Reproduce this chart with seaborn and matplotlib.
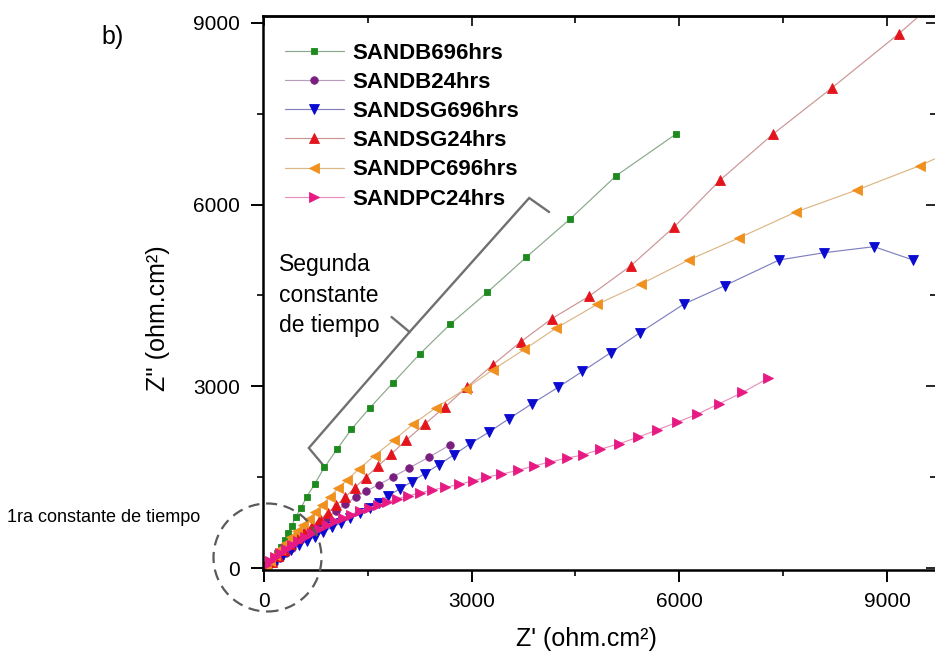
import numpy as np
import pandas as pd
import matplotlib
matplotlib.use("Agg")
import matplotlib.pyplot as plt
import seaborn as sns
from matplotlib.patches import Ellipse
from matplotlib.ticker import MultipleLocator

# ---------------- data (Z' , Z'' in ohm.cm2) ----------------
series_names = ["SANDB696hrs", "SANDB24hrs", "SANDSG696hrs",
                "SANDSG24hrs", "SANDPC696hrs", "SANDPC24hrs"]

b696_x = [48, 96, 144, 192, 240, 302, 346, 399, 456, 533, 619, 734, 874, 1056,
          1263, 1531, 1862, 2247, 2693, 3226, 3787, 4417, 5088, 5958]
b696_y = [12, 78, 160, 253, 352, 462, 573, 694, 837, 991, 1177, 1392, 1664, 1962,
          2290, 2647, 3055, 3529, 4029, 4552, 5130, 5758, 6478, 7171]

b24_x = [58, 144, 230, 317, 403, 490, 590, 691, 799, 914, 1037, 1174, 1325, 1479,
         1656, 1862, 2092, 2380, 2683]
b24_y = [17, 83, 165, 248, 330, 429, 528, 627, 727, 826, 941, 1049, 1172, 1271,
         1375, 1503, 1648, 1830, 2028]

sg696_x = [86, 173, 274, 389, 504, 619, 734, 850, 979, 1109, 1238, 1382, 1527, 1656,
           1786, 1959, 2136, 2321, 2524, 2751, 2978, 3245, 3538, 3871, 4251, 4601,
           5012, 5429, 6067, 6653, 7441, 8089, 8813, 9375]
sg696_y = [50, 132, 215, 297, 372, 446, 520, 594, 669, 743, 821, 903, 986, 1078,
           1189, 1304, 1425, 1559, 1704, 1874, 2051, 2241, 2464, 2713, 2985, 3248,
           3558, 3885, 4359, 4661, 5086, 5206, 5306, 5086]

sg24_x = [43, 115, 202, 288, 374, 475, 576, 691, 806, 926, 1047, 1171, 1310, 1469,
          1642, 1839, 2056, 2319, 2618, 2928, 3302, 3711, 4158, 4695, 5295, 5929,
          6586, 7349, 8199, 9166, 9950]
sg24_y = [17, 99, 198, 297, 396, 495, 594, 694, 804, 913, 1040, 1166, 1325, 1494,
          1679, 1882, 2114, 2373, 2664, 2984, 3352, 3737, 4117, 4486, 4987, 5636,
          6402, 7161, 7923, 8818, 9600]

pc696_x = [29, 86, 158, 230, 317, 389, 475, 562, 648, 734, 835, 950, 1070, 1200,
           1372, 1598, 1884, 2155, 2481, 2913, 3302, 3763, 4215, 4817, 5448, 6135,
           6869, 7680, 8564, 9471, 10400]
pc696_y = [33, 116, 215, 314, 413, 512, 611, 710, 809, 920, 1040, 1178, 1316, 1453,
           1635, 1857, 2119, 2378, 2645, 2959, 3270, 3611, 3958, 4356, 4690, 5086,
           5454, 5878, 6242, 6643, 7120]

pc24_x = [29, 86, 158, 230, 317, 403, 490, 590, 691, 792, 907, 1022, 1138, 1253,
          1382, 1512, 1642, 1771, 1915, 2074, 2247, 2434, 2621, 2823, 3014, 3209,
          3427, 3668, 3907, 4137, 4374, 4608, 4860, 5134, 5410, 5678, 5965, 6250,
          6567, 6912, 7287]
pc24_y = [50, 116, 182, 248, 314, 380, 446, 512, 578, 644, 710, 768, 826, 883,
          941, 991, 1040, 1090, 1139, 1189, 1238, 1288, 1332, 1382, 1437, 1499,
          1549, 1613, 1689, 1750, 1816, 1866, 1962, 2053, 2163, 2279, 2406, 2535,
          2708, 2898, 3137]

xs = [b696_x, b24_x, sg696_x, sg24_x, pc696_x, pc24_x]
ys = [b696_y, b24_y, sg696_y, sg24_y, pc696_y, pc24_y]

marker_colors = ["#1c8a1c", "#7a1f80", "#0a0ad0", "#e3141c", "#f0901e", "#e61a82"]
line_colors = ["#8aa88a", "#b89cbc", "#8080c0", "#cc9494", "#dcb686", "#e890bc"]
markers = ["s", "o", "v", "^", "<", ">"]
msizes = [4.6, 5.4, 6.6, 6.6, 6.6, 6.6]

xticks_major = [0, 3000, 6000, 9000]
yticks_major = [0, 3000, 6000, 9000]

# ---------------- figure ----------------
sns.set_theme(style="ticks")
plt.rcParams["font.family"] = ["Liberation Sans", "DejaVu Sans"]
plt.rcParams["text.color"] = "black"
plt.rcParams["axes.labelcolor"] = "black"

fig = plt.figure(figsize=(9.35, 6.58), dpi=100)
ax = fig.add_axes([263 / 935, 1 - 570 / 658, (937 - 263) / 935, (570 - 16) / 658])

for name, x, y, mk, ms, mc, lc in zip(series_names, xs, ys, markers, msizes,
                                      marker_colors, line_colors):
    df = pd.DataFrame({"Zr": x, "Zi": y})
    sns.lineplot(data=df, x="Zr", y="Zi", ax=ax, sort=False, estimator=None,
                 color=lc, linewidth=0.85, marker=mk, markersize=ms,
                 markerfacecolor=mc, markeredgecolor=mc, markeredgewidth=0.6,
                 label=name)

ax.set_xlim(-14, 9722)
ax.set_ylim(-33, 9115)
ax.set_xticks(xticks_major)
ax.set_yticks(yticks_major)
ax.xaxis.set_minor_locator(MultipleLocator(1500))
ax.yaxis.set_minor_locator(MultipleLocator(1500))
ax.tick_params(which="major", direction="out", length=8.5, width=1.4,
               labelsize=15, colors="black")
ax.tick_params(which="minor", direction="out", length=4, width=1.4)
ax.tick_params(axis="x", which="major", pad=7)
ax.tick_params(axis="y", which="major", pad=8)
for sp in ax.spines.values():
    sp.set_visible(True)
    sp.set_linewidth(1.8)
    sp.set_color("black")

# top and right axes: inward ticks, no labels
top = ax.secondary_xaxis("top")
top.set_xticks(xticks_major)
top.xaxis.set_minor_locator(MultipleLocator(1500))
top.tick_params(which="major", direction="in", length=7, width=1.4, labeltop=False)
top.tick_params(which="minor", direction="in", length=5, width=1.4)
top.spines["top"].set_linewidth(1.8)
right = ax.secondary_yaxis("right")
right.set_yticks(yticks_major)
right.yaxis.set_minor_locator(MultipleLocator(1500))
right.tick_params(which="major", direction="in", length=8, width=1.4, labelright=False)
right.tick_params(which="minor", direction="in", length=5, width=1.4)

ax.set_xlabel("Z' (ohm.cm²)", fontsize=18)
ax.set_ylabel("Z'' (ohm.cm²)", fontsize=18)
ax.xaxis.set_label_coords(0.48, -0.102)
ax.yaxis.set_label_coords(-0.138, 0.455)

leg = ax.legend(loc="upper left", bbox_to_anchor=(0.0326, 0.952), frameon=False,
                prop={"weight": "bold", "size": 16}, handlelength=2.65,
                handletextpad=0.38, labelspacing=0.37, borderpad=0,
                borderaxespad=0, numpoints=1)

# bracket "Segunda constante de tiempo"
brk1_x = [4119, 3831, 2103, 1843]
brk1_y = [5878, 6110, 3897, 4145]
brk2_x = [2103, 648, 878]
brk2_y = [3897, 1982, 1668]
ax.plot(brk1_x, brk1_y, color="#707070", lw=1.7, solid_joinstyle="miter", zorder=1)
ax.plot(brk2_x, brk2_y, color="#707070", lw=1.7, solid_joinstyle="miter", zorder=1)

# dashed circle around the first time constant
circ = Ellipse((267.5 / 935, 1 - 557.5 / 658), 108 / 935, 108 / 658,
               transform=fig.transFigure, fill=False, ec="#5a5a5a", lw=1.6,
               ls=(0, (5, 3)), zorder=10)
fig.add_artist(circ)

fig.text(101 / 935, 1 - 37 / 658, "b)", fontsize=18, va="center", ha="left")
fig.text(279 / 935, 1 - 295 / 658, "Segunda\nconstante\nde tiempo", fontsize=16.5,
         va="center", ha="left", linespacing=1.4)
fig.text(7 / 935, 1 - 518 / 658, "1ra constante de tiempo", fontsize=13,
         va="center", ha="left")

fig.savefig("out.png", dpi=100)
